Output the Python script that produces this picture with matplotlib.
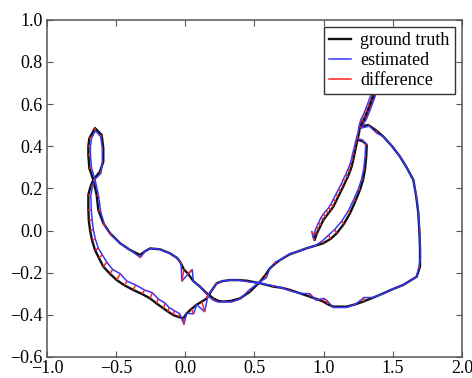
import matplotlib
matplotlib.use("Agg")
import matplotlib.pyplot as plt
from matplotlib.collections import LineCollection

# ground-truth trajectory (x, y)
gt_points = [
    (0.925, -0.020), (0.935, -0.045), (0.950, -0.015), (0.965, 0.005), (0.980, 0.025),
    (0.998, 0.050), (1.015, 0.065), (1.035, 0.082), (1.052, 0.097), (1.070, 0.113),
    (1.088, 0.137), (1.105, 0.160), (1.124, 0.185), (1.142, 0.209), (1.158, 0.232),
    (1.175, 0.255), (1.190, 0.280), (1.203, 0.304), (1.213, 0.332), (1.222, 0.360),
    (1.231, 0.387), (1.239, 0.414), (1.247, 0.437), (1.255, 0.460), (1.263, 0.493),
    (1.282, 0.517), (1.300, 0.540), (1.315, 0.565), (1.330, 0.590), (1.345, 0.617),
    (1.360, 0.644), (1.420, 0.750), (1.365, 0.644), (1.350, 0.617), (1.335, 0.590),
    (1.320, 0.565), (1.305, 0.540), (1.287, 0.517), (1.268, 0.493), (1.323, 0.501),
    (1.380, 0.475), (1.432, 0.446), (1.495, 0.400), (1.552, 0.351), (1.600, 0.300),
    (1.649, 0.240), (1.670, 0.160), (1.685, 0.082), (1.692, 0.000), (1.697, -0.077),
    (1.697, -0.130), (1.697, -0.171), (1.673, -0.219), (1.576, -0.258), (1.500, -0.278),
    (1.432, -0.298), (1.360, -0.318), (1.287, -0.337), (1.230, -0.350), (1.167, -0.361),
    (1.070, -0.361), (1.030, -0.350), (0.998, -0.337), (0.950, -0.325), (0.902, -0.314),
    (0.830, -0.298), (0.757, -0.282), (0.700, -0.272), (0.636, -0.266), (0.540, -0.250),
    (0.444, -0.238), (0.380, -0.235), (0.323, -0.235), (0.270, -0.240), (0.227, -0.250),
    (0.190, -0.285), (0.155, -0.322), (0.120, -0.337), (0.082, -0.352), (0.045, -0.372),
    (0.010, -0.393), (-0.014, -0.416), (-0.050, -0.410), (-0.087, -0.401), (-0.125, -0.385),
    (-0.159, -0.369), (-0.210, -0.345), (-0.255, -0.322), (-0.310, -0.302), (-0.376, -0.282),
    (-0.440, -0.260), (-0.496, -0.235), (-0.545, -0.205), (-0.593, -0.171), (-0.625, -0.130),
    (-0.653, -0.092), (-0.675, -0.045), (-0.689, 0.003), (-0.698, 0.050), (-0.701, 0.098),
    (-0.701, 0.169), (-0.685, 0.210), (-0.665, 0.240), (-0.617, 0.280), (-0.593, 0.327),
    (-0.593, 0.391), (-0.605, 0.454), (-0.653, 0.486), (-0.694, 0.438), (-0.701, 0.400),
    (-0.701, 0.359), (-0.694, 0.296), (-0.665, 0.240), (-0.641, 0.169), (-0.629, 0.098),
    (-0.593, 0.035), (-0.544, -0.013), (-0.472, -0.060), (-0.400, -0.092), (-0.328, -0.116),
    (-0.290, -0.098), (-0.255, -0.085), (-0.183, -0.089), (-0.111, -0.108), (-0.060, -0.130),
    (-0.038, -0.148), (-0.010, -0.185), (0.020, -0.205), (0.058, -0.240), (0.106, -0.266),
    (0.150, -0.295), (0.202, -0.322), (0.240, -0.334), (0.275, -0.337), (0.330, -0.334),
    (0.396, -0.322), (0.468, -0.290), (0.540, -0.243), (0.580, -0.210), (0.612, -0.179),
    (0.650, -0.157), (0.685, -0.140), (0.757, -0.112), (0.820, -0.098), (0.878, -0.084),
    (0.940, -0.072), (0.998, -0.060), (1.050, -0.040), (1.095, -0.013), (1.145, 0.030),
    (1.191, 0.082), (1.230, 0.140), (1.263, 0.193), (1.285, 0.240), (1.299, 0.288),
    (1.308, 0.350), (1.312, 0.406), (1.287, 0.422), (1.255, 0.430),
]

# estimated trajectory (x, y), one point per ground-truth point
est_points = [
    (0.915, -0.005), (0.925, -0.035), (0.935, -0.008), (0.948, 0.016), (0.963, 0.036),
    (0.982, 0.062), (0.998, 0.078), (1.018, 0.094), (1.036, 0.108), (1.053, 0.126),
    (1.071, 0.149), (1.089, 0.172), (1.108, 0.196), (1.127, 0.219), (1.142, 0.243),
    (1.160, 0.266), (1.176, 0.290), (1.190, 0.313), (1.202, 0.340), (1.211, 0.368),
    (1.222, 0.394), (1.231, 0.421), (1.240, 0.444), (1.249, 0.467), (1.258, 0.500),
    (1.270, 0.527), (1.288, 0.550), (1.303, 0.575), (1.318, 0.600), (1.333, 0.627),
    (1.348, 0.655), (1.410, 0.760), (1.373, 0.638), (1.358, 0.611), (1.343, 0.584),
    (1.328, 0.559), (1.313, 0.534), (1.294, 0.511), (1.272, 0.486), (1.330, 0.496),
    (1.385, 0.462), (1.432, 0.446), (1.495, 0.400), (1.552, 0.351), (1.600, 0.300),
    (1.649, 0.240), (1.672, 0.160), (1.686, 0.082), (1.694, 0.000), (1.699, -0.077),
    (1.700, -0.130), (1.688, -0.175), (1.673, -0.219), (1.576, -0.258), (1.500, -0.278),
    (1.432, -0.298), (1.360, -0.318), (1.292, -0.318), (1.230, -0.350), (1.167, -0.365),
    (1.070, -0.365), (1.020, -0.330), (1.000, -0.322), (0.945, -0.330), (0.900, -0.300),
    (0.830, -0.298), (0.757, -0.286), (0.700, -0.272), (0.636, -0.262), (0.540, -0.250),
    (0.444, -0.242), (0.380, -0.235), (0.323, -0.235), (0.270, -0.240), (0.220, -0.255),
    (0.190, -0.285), (0.165, -0.305), (0.140, -0.385), (0.082, -0.352), (0.060, -0.395),
    (0.010, -0.393), (-0.010, -0.445), (-0.040, -0.395), (-0.080, -0.380), (-0.118, -0.365),
    (-0.145, -0.345), (-0.195, -0.325), (-0.238, -0.295), (-0.295, -0.282), (-0.360, -0.258),
    (-0.422, -0.240), (-0.470, -0.205), (-0.525, -0.185), (-0.568, -0.150), (-0.600, -0.115),
    (-0.628, -0.085), (-0.650, -0.042), (-0.665, 0.003), (-0.674, 0.050), (-0.680, 0.098),
    (-0.683, 0.169), (-0.670, 0.212), (-0.656, 0.242), (-0.610, 0.272), (-0.600, 0.327),
    (-0.600, 0.391), (-0.612, 0.446), (-0.650, 0.474), (-0.678, 0.438), (-0.686, 0.400),
    (-0.686, 0.359), (-0.678, 0.296), (-0.652, 0.240), (-0.627, 0.163), (-0.612, 0.090),
    (-0.582, 0.022), (-0.538, -0.020), (-0.472, -0.060), (-0.400, -0.092), (-0.325, -0.128),
    (-0.290, -0.098), (-0.255, -0.085), (-0.183, -0.089), (-0.111, -0.108), (-0.060, -0.130),
    (-0.030, -0.155), (-0.025, -0.240), (0.050, -0.185), (0.058, -0.240), (0.106, -0.266),
    (0.150, -0.300), (0.200, -0.330), (0.240, -0.340), (0.275, -0.337), (0.330, -0.340),
    (0.396, -0.325), (0.462, -0.282), (0.540, -0.243), (0.585, -0.225), (0.612, -0.179),
    (0.650, -0.150), (0.685, -0.140), (0.757, -0.110), (0.820, -0.098), (0.878, -0.084),
    (0.940, -0.072), (0.990, -0.050), (1.035, -0.022), (1.080, 0.005), (1.132, 0.045),
    (1.180, 0.095), (1.220, 0.150), (1.253, 0.200), (1.275, 0.245), (1.290, 0.292),
    (1.300, 0.352), (1.305, 0.410), (1.285, 0.428), (1.252, 0.436),
]

x_ticks = [-1.0, -0.5, 0.0, 0.5, 1.0, 1.5, 2.0]
y_ticks = [-0.6, -0.4, -0.2, 0.0, 0.2, 0.4, 0.6, 0.8, 1.0]
series_labels = ["ground truth", "estimated", "difference"]

plt.rcParams['font.family'] = ['Liberation Serif', 'DejaVu Serif']

fig = plt.figure(figsize=(4.72, 3.78), dpi=100)
ax = fig.add_axes([0.0996, 0.0556, 0.879, 0.892])

gx = [p[0] for p in gt_points]
gy = [p[1] for p in gt_points]
ex = [p[0] for p in est_points]
ey = [p[1] for p in est_points]

ax.plot(gx, gy, color='#111111', lw=1.7, label=series_labels[0], zorder=2)
ax.plot(ex, ey, color='#3535ff', lw=1.1, label=series_labels[1], zorder=3)
segs = [[g, e] for g, e in zip(gt_points, est_points)]
lc = LineCollection(segs, colors='#ff2020', linewidths=1.1, zorder=4)
ax.add_collection(lc)
ax.plot([], [], color='#ff2020', lw=1.1, label=series_labels[2])

ax.set_xlim(-1.0, 2.0)
ax.set_ylim(-0.6, 1.0)
ax.set_xticks(x_ticks)
ax.set_yticks(y_ticks)
ax.set_xticklabels([f"{v:.1f}".replace('-', '\u2212') for v in x_ticks])
ax.set_yticklabels([f"{v:.1f}".replace('-', '\u2212') for v in y_ticks])
ax.tick_params(direction='in', top=True, right=True, length=4, width=0.8,
               color='#555555', labelsize=13)
ax.tick_params(axis='x', pad=2)
ax.tick_params(axis='y', pad=3)
for s in ax.spines.values():
    s.set_color('#555555')
    s.set_linewidth(1.1)

leg = ax.legend(loc='upper right', fontsize=13, frameon=True, fancybox=False,
                edgecolor='#333333', framealpha=1.0, handlelength=1.2,
                borderaxespad=0.4, borderpad=0.3, labelspacing=0.15, handletextpad=0.5)
leg.get_frame().set_linewidth(1.0)
leg.set_zorder(10)

fig.savefig("out.png", dpi=100)
